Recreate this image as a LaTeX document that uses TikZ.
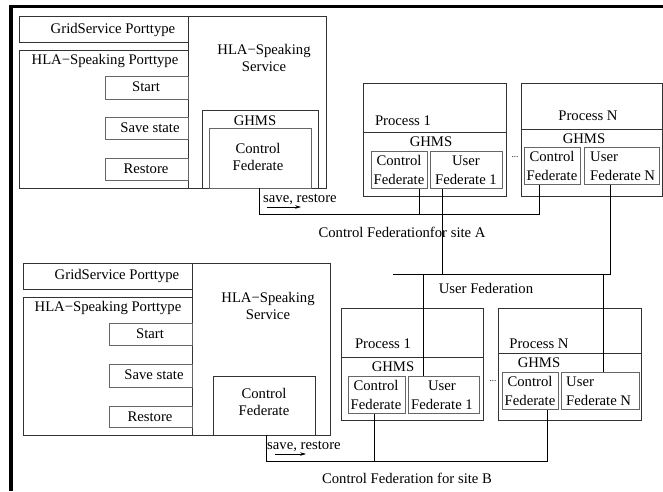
\documentclass[tikz,border=0pt]{standalone}
\usepackage{fontspec}
\setmainfont{Liberation Serif}
\usetikzlibrary{fit,arrows.meta}
\begin{document}
\begin{tikzpicture}[x=1pt,y=-1pt,
  box/.style={draw=black!80, line width=0.9pt, inner sep=0pt},
  ibox/.style={draw=black!60, line width=1pt, inner sep=0pt},
  lbl/.style={inner sep=0pt, font=\fontsize{14.7}{17}\selectfont, align=center},
  lblL/.style={inner sep=0pt, font=\fontsize{14.7}{19}\selectfont, align=left, anchor=west},
  bus/.style={draw=black, line width=0.8pt},
  sep/.style={draw=black!80, line width=0.9pt},
  arr/.style={-{Stealth[length=6pt,width=3.5pt]}, line width=0.6pt},
  dots/.style={inner sep=0pt, font=\fontsize{9}{10}\selectfont},
]
\useasboundingbox (0,0) rectangle (663,491);
\coordinate (fr1) at (11,491);
\coordinate (fr2) at (11,6.5);
\coordinate (fr3) at (663,6.5);
\draw[line width=3.5pt] (fr1) -- (fr2) -- (fr3);

% ---------------- Site A service ----------------
\node[box, fit={(19,16)(188,42)}] (gsA) {};
\node[box, fit={(19,50)(188,188)}] (hpA) {};
\node[box, fit={(188,16)(326,188)}] (svA) {};
\node[ibox, fit={(105,76)(188,99)}] (startA) {};
\node[ibox, fit={(105,117)(188,139)}] (saveA) {};
\node[ibox, fit={(105,158)(188,180)}] (restA) {};
\node[box, fit={(202,110)(318,188)}] (ghmsA) {};
\node[ibox, fit={(209,128)(311,188)}] (cfA) {};
\node[lbl] (tgsA) at (113,30) {GridService Porttype};
\node[lbl] (thpA) at (105,61) {HLA−Speaking Porttype};
\node[lbl] (tsvA) at (264,58) {HLA−Speaking\\Service};
\node[lbl] (tstA) at (146,87) {Start};
\node[lbl] (tsaA) at (150,128) {Save state};
\node[lbl] (treA) at (146,169) {Restore};
\node[lbl] (tghA) at (255,121) {GHMS};
\node[lbl] (tcfA) at (258,157) {Control\\Federate};

% ---------------- Site A processes ----------------
\node[box, fit={(363,83)(506,196)}] (p1A) {};
\draw[sep] (p1A.west |- 0,132) -- (p1A.east |- 0,132);
\node[ibox, fit={(371,151)(427,188)}] (cf1A) {};
\node[ibox, fit={(430,151)(502,188)}] (uf1A) {};
\node[lbl] (tp1A) at (403,121) {Process 1};
\node[lbl] (tg1A) at (431,142) {GHMS};
\node[lbl, font=\fontsize{14.7}{19}\selectfont] (tc1A) at (399,170) {Control\\Federate};
\node[lbl, font=\fontsize{14.7}{19}\selectfont] (tu1A) at (466,170) {User\\Federate 1};

\node[box, fit={(521,83)(662,196)}] (pNA) {};
\draw[sep] (pNA.west |- 0,129) -- (pNA.east |- 0,129);
\node[ibox, fit={(524,147)(580,184)}] (cfNA) {};
\node[ibox, fit={(584,147)(659,184)}] (ufNA) {};
\node[lbl] (tpNA) at (588,116) {Process N};
\node[lbl] (tgNA) at (584,139) {GHMS};
\node[lbl, font=\fontsize{14.7}{19}\selectfont] (tcNA) at (552,166) {Control\\Federate};
\node[lblL] (tuNA) at (590,166) {User\\Federate N};
\node[dots] (dA) at (515,157) {...};

% connectors site A
\coordinate (srA) at (259,188);
\coordinate (jA1) at (419,214);
\coordinate (jAN) at (539,214);
\draw[bus] (srA) |- (jAN) -- (jAN |- cfNA.south);
\draw[bus] (jA1 |- cf1A.south) -- (jA1);
\node[lbl, anchor=west] (tsrA) at (263,199) {save, restore};
\coordinate (aA1) at (267,207);
\coordinate (aA2) at (301,207);
\draw[arr] (aA1) -- (aA2);
\node[lbl] (tcfedA) at (402,232) {Control Federationfor site A};

% ---------------- User federation ----------------
\coordinate (uL) at (393,274);
\coordinate (uR) at (610,274);
\coordinate (u1a) at (442,274);
\coordinate (u1b) at (423,274);
\coordinate (unb) at (603,274);
\draw[bus] (uL) -- (uR) -- (uR |- ufNA.south);
\draw[bus] (u1a) -- (u1a |- uf1A.south);
\node[lbl] (tuf) at (486,288) {User Federation};

% ---------------- Site B service ----------------
\node[box, fit={(23,263)(192,289)}] (gsB) {};
\node[box, fit={(23,297)(192,435)}] (hpB) {};
\node[box, fit={(192,263)(330,435)}] (svB) {};
\node[ibox, fit={(109,323)(192,345)}] (startB) {};
\node[ibox, fit={(109,364)(192,387)}] (saveB) {};
\node[ibox, fit={(109,406)(192,427)}] (restB) {};
\node[box, fit={(213,376)(315,435)}] (cfB) {};
\node[lbl] (tgsB) at (117,276) {GridService Porttype};
\node[lbl] (thpB) at (108,308) {HLA−Speaking Porttype};
\node[lbl] (tsvB) at (268,306) {HLA−Speaking\\Service};
\node[lbl] (tstB) at (150,334) {Start};
\node[lbl] (tsaB) at (154,375) {Save state};
\node[lbl] (treB) at (150,417) {Restore};
\node[lbl] (tcfB) at (264,402) {Control\\Federate};

% ---------------- Site B processes ----------------
\node[box, fit={(341,308)(483,420)}] (p1B) {};
\draw[sep] (p1B.west |- 0,357) -- (p1B.east |- 0,357);
\node[ibox, fit={(348,376)(405,413)}] (cf1B) {};
\node[ibox, fit={(408,376)(479,413)}] (uf1B) {};
\node[lbl] (tp1B) at (383,344) {Process 1};
\node[lbl] (tg1B) at (393,367) {GHMS};
\node[lbl, font=\fontsize{14.7}{19}\selectfont] (tc1B) at (376,395) {Control\\Federate};
\node[lbl, font=\fontsize{14.7}{19}\selectfont] (tu1B) at (442,395) {User\\Federate 1};

\node[box, fit={(498,308)(641,420)}] (pNB) {};
\draw[sep] (pNB.west |- 0,353) -- (pNB.east |- 0,353);
\node[ibox, fit={(502,372)(558,409)}] (cfNB) {};
\node[ibox, fit={(561,372)(639,409)}] (ufNB) {};
\node[lbl] (tpNB) at (539,344) {Process N};
\node[lbl] (tgNB) at (539,363) {GHMS};
\node[lbl, font=\fontsize{14.7}{19}\selectfont] (tcNB) at (530,391) {Control\\Federate};
\node[lblL] (tuNB) at (566,391) {User\\Federate N};
\node[dots] (dB) at (493,381) {...};

\draw[bus] (u1b) -- (u1b |- uf1B.north);
\draw[bus] (unb) -- (unb |- ufNB.north);

% connectors site B
\coordinate (srB) at (266,435);
\coordinate (jB1) at (374,461);
\coordinate (jBN) at (547,461);
\draw[bus] (srB) |- (jBN) -- (jBN |- cfNB.south);
\draw[bus] (jB1) -- (jB1 |- cf1B.south);
\node[lbl, anchor=west] (tsrB) at (267,446) {save, restore};
\coordinate (aB1) at (275,454);
\coordinate (aB2) at (306,454);
\draw[arr] (aB1) -- (aB2);
\node[lbl] (tcfedB) at (407,478) {Control Federation for site B};
\end{tikzpicture}
\end{document}
